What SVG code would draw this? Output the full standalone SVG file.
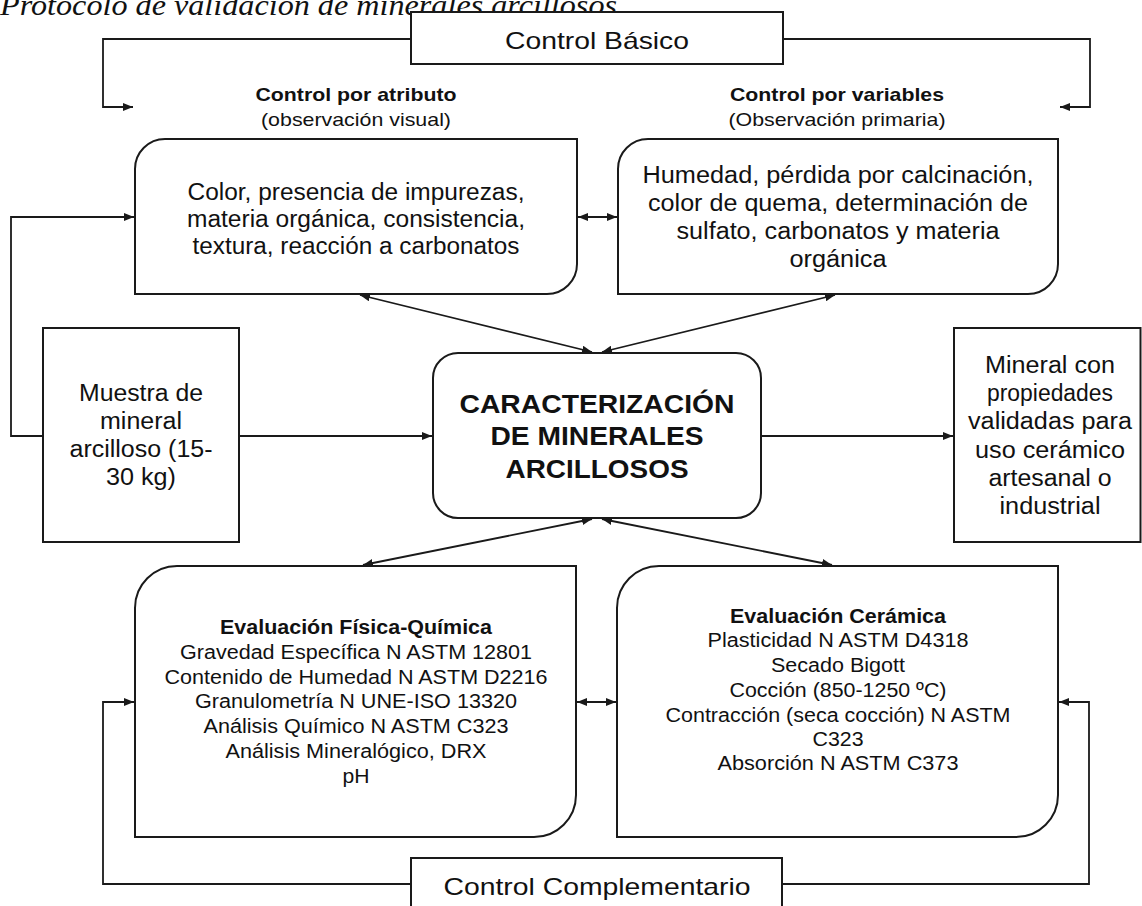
<svg xmlns="http://www.w3.org/2000/svg" width="1142" height="906" viewBox="0 0 1142 906">
<style>
  .box { fill: #fff; stroke: #1a1a1a; stroke-width: 2; }
  .ln { fill: none; stroke: #1a1a1a; stroke-width: 1.8; }
  .t { font-family: "Liberation Sans", Arial, sans-serif; fill: #111; text-anchor: middle; }
  .b { font-weight: bold; }
  .title { font-family: "Liberation Serif", "Times New Roman", serif; font-style: italic; fill: #111; }
</style>
<defs>
  <marker id="ah" markerUnits="userSpaceOnUse" markerWidth="10" markerHeight="8" refX="10" refY="4" orient="auto-start-reverse" viewBox="0 0 10 8">
    <path d="M0,0 L10,4 L0,8 z" fill="#1a1a1a"/>
  </marker>
</defs>
<rect width="1142" height="906" fill="#fff"/>
<text class="title" x="0" y="15" font-size="30" textLength="617" lengthAdjust="spacingAndGlyphs">Protocolo de validación de minerales arcillosos</text>

<g id="connectors">
  <polyline class="ln" points="411,39 103,39 103,107 133,107" marker-end="url(#ah)"/>
  <polyline class="ln" points="783,39 1090,39 1090,107 1060,107" marker-end="url(#ah)"/>
  <line class="ln" x1="578" y1="217" x2="617" y2="217" marker-start="url(#ah)" marker-end="url(#ah)"/>
  <polyline class="ln" points="43,436 11,436 11,217 134,217" marker-end="url(#ah)"/>
  <line class="ln" x1="360" y1="295" x2="592" y2="352" marker-start="url(#ah)" marker-end="url(#ah)"/>
  <line class="ln" x1="835" y1="295" x2="602" y2="352" marker-start="url(#ah)" marker-end="url(#ah)"/>
  <line class="ln" x1="239" y1="436" x2="432" y2="436" marker-end="url(#ah)"/>
  <line class="ln" x1="761" y1="436" x2="953" y2="436" marker-end="url(#ah)"/>
  <line class="ln" x1="363" y1="565" x2="592" y2="519" marker-start="url(#ah)" marker-end="url(#ah)"/>
  <line class="ln" x1="832" y1="565" x2="602" y2="519" marker-start="url(#ah)" marker-end="url(#ah)"/>
  <line class="ln" x1="577" y1="702" x2="616" y2="702" marker-start="url(#ah)" marker-end="url(#ah)"/>
  <polyline class="ln" points="411,884 103,884 103,702 134,702" marker-end="url(#ah)"/>
  <polyline class="ln" points="782,884 1089,884 1089,702 1059,702" marker-end="url(#ah)"/>
</g>

<g id="control-basico">
  <rect class="box" x="411" y="12" width="372" height="52"/>
  <text class="t" x="597" y="49" font-size="24" textLength="184" lengthAdjust="spacingAndGlyphs">Control Básico</text>
</g>

<g id="label-atributo">
  <text class="t b" x="356" y="101" font-size="19" textLength="201" lengthAdjust="spacingAndGlyphs">Control por atributo</text>
  <text class="t" x="356" y="126" font-size="19" textLength="190" lengthAdjust="spacingAndGlyphs">(observación visual)</text>
</g>

<g id="label-variables">
  <text class="t b" x="837" y="101" font-size="19" textLength="214" lengthAdjust="spacingAndGlyphs">Control por variables</text>
  <text class="t" x="837" y="126" font-size="19" textLength="217" lengthAdjust="spacingAndGlyphs">(Observación primaria)</text>
</g>

<g id="control-atributo">
  <path class="box" d="M165,139 H577 V264 A30,30 0 0 1 547,294 H135 V169 A30,30 0 0 1 165,139 Z"/>
  <text class="t" x="356" y="200" font-size="23" textLength="337" lengthAdjust="spacingAndGlyphs">Color, presencia de impurezas,</text>
  <text class="t" x="356" y="227" font-size="23" textLength="338" lengthAdjust="spacingAndGlyphs">materia orgánica, consistencia,</text>
  <text class="t" x="356" y="254" font-size="23" textLength="327" lengthAdjust="spacingAndGlyphs">textura, reacción a carbonatos</text>
</g>

<g id="control-variables">
  <path class="box" d="M648,139 H1058 V264 A30,30 0 0 1 1028,294 H618 V169 A30,30 0 0 1 648,139 Z"/>
  <text class="t" x="838" y="183" font-size="23" textLength="391" lengthAdjust="spacingAndGlyphs">Humedad, pérdida por calcinación,</text>
  <text class="t" x="838" y="211" font-size="23" textLength="380" lengthAdjust="spacingAndGlyphs">color de quema, determinación de</text>
  <text class="t" x="838" y="239" font-size="23" textLength="323" lengthAdjust="spacingAndGlyphs">sulfato, carbonatos y materia</text>
  <text class="t" x="838" y="267" font-size="23" textLength="97" lengthAdjust="spacingAndGlyphs">orgánica</text>
</g>

<g id="muestra">
  <rect class="box" x="43" y="328" width="196" height="214"/>
  <text class="t" x="141" y="401" font-size="23" textLength="124" lengthAdjust="spacingAndGlyphs">Muestra de</text>
  <text class="t" x="141" y="429" font-size="23" textLength="82" lengthAdjust="spacingAndGlyphs">mineral</text>
  <text class="t" x="141" y="457" font-size="23" textLength="143" lengthAdjust="spacingAndGlyphs">arcilloso (15-</text>
  <text class="t" x="141" y="485" font-size="23" textLength="70" lengthAdjust="spacingAndGlyphs">30 kg)</text>
</g>

<g id="caracterizacion">
  <rect class="box" x="433" y="353" width="328" height="165" rx="25" ry="25"/>
  <text class="t b" x="597" y="413" font-size="26" textLength="275" lengthAdjust="spacingAndGlyphs">CARACTERIZACIÓN</text>
  <text class="t b" x="597" y="445" font-size="26" textLength="213" lengthAdjust="spacingAndGlyphs">DE MINERALES</text>
  <text class="t b" x="597" y="478" font-size="26" textLength="183" lengthAdjust="spacingAndGlyphs">ARCILLOSOS</text>
</g>

<g id="mineral-validado">
  <rect class="box" x="954" y="328" width="186.5" height="214"/>
  <text class="t" x="1050" y="373" font-size="23" textLength="130" lengthAdjust="spacingAndGlyphs">Mineral con</text>
  <text class="t" x="1050" y="401" font-size="23" textLength="126" lengthAdjust="spacingAndGlyphs">propiedades</text>
  <text class="t" x="1050" y="429" font-size="23" textLength="164" lengthAdjust="spacingAndGlyphs">validadas para</text>
  <text class="t" x="1050" y="458" font-size="23" textLength="150" lengthAdjust="spacingAndGlyphs">uso cerámico</text>
  <text class="t" x="1050" y="486" font-size="23" textLength="123" lengthAdjust="spacingAndGlyphs">artesanal o</text>
  <text class="t" x="1050" y="514" font-size="23" textLength="101" lengthAdjust="spacingAndGlyphs">industrial</text>
</g>

<g id="evaluacion-fisico-quimica">
  <path class="box" d="M177,566 H576 V795 A42,42 0 0 1 534,837 H135 V608 A42,42 0 0 1 177,566 Z"/>
  <text class="t b" x="356" y="634" font-size="20" textLength="272" lengthAdjust="spacingAndGlyphs">Evaluación Física-Química</text>
  <text class="t" x="356" y="659" font-size="20" textLength="352" lengthAdjust="spacingAndGlyphs">Gravedad Específica N ASTM  12801</text>
  <text class="t" x="356" y="684" font-size="20" textLength="383" lengthAdjust="spacingAndGlyphs">Contenido de Humedad N ASTM  D2216</text>
  <text class="t" x="356" y="708" font-size="20" textLength="322" lengthAdjust="spacingAndGlyphs">Granulometría N UNE-ISO  13320</text>
  <text class="t" x="356" y="733" font-size="20" textLength="305" lengthAdjust="spacingAndGlyphs">Análisis Químico N ASTM  C323</text>
  <text class="t" x="356" y="758" font-size="20" textLength="261" lengthAdjust="spacingAndGlyphs">Análisis Mineralógico, DRX</text>
  <text class="t" x="356" y="783" font-size="20" textLength="27" lengthAdjust="spacingAndGlyphs">pH</text>
</g>

<g id="evaluacion-ceramica">
  <path class="box" d="M659,566 H1058 V795 A42,42 0 0 1 1016,837 H617 V608 A42,42 0 0 1 659,566 Z"/>
  <text class="t b" x="838" y="623" font-size="20" textLength="216" lengthAdjust="spacingAndGlyphs">Evaluación Cerámica</text>
  <text class="t" x="838" y="647" font-size="20" textLength="261" lengthAdjust="spacingAndGlyphs">Plasticidad N ASTM  D4318</text>
  <text class="t" x="838" y="672" font-size="20" textLength="134" lengthAdjust="spacingAndGlyphs">Secado Bigott</text>
  <text class="t" x="838" y="697" font-size="20" textLength="217" lengthAdjust="spacingAndGlyphs">Cocción (850-1250 ºC)</text>
  <text class="t" x="838" y="722" font-size="20" textLength="345" lengthAdjust="spacingAndGlyphs">Contracción (seca cocción) N ASTM</text>
  <text class="t" x="838" y="746" font-size="20" textLength="51" lengthAdjust="spacingAndGlyphs">C323</text>
  <text class="t" x="838" y="770" font-size="20" textLength="241" lengthAdjust="spacingAndGlyphs">Absorción N ASTM  C373</text>
</g>

<g id="control-complementario">
  <rect class="box" x="411" y="858" width="371" height="56"/>
  <text class="t" x="597" y="895" font-size="24" textLength="307" lengthAdjust="spacingAndGlyphs">Control Complementario</text>
</g>
</svg>
